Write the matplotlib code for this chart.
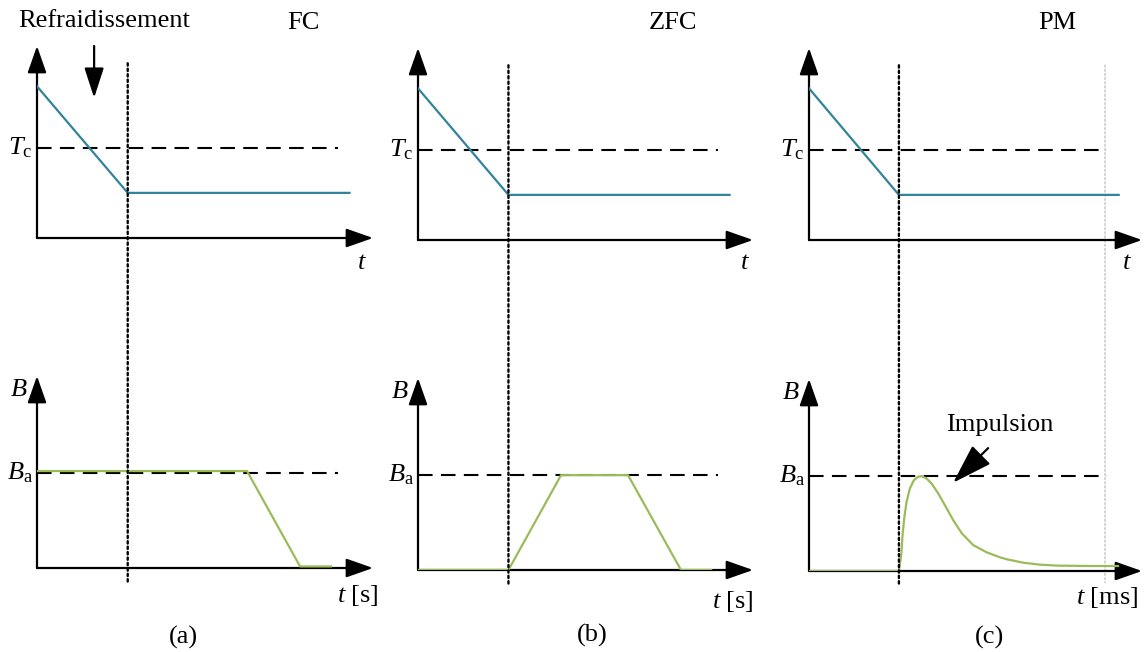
import matplotlib
matplotlib.use('Agg')
import matplotlib.pyplot as plt
from matplotlib.patches import ConnectionPatch

plt.rcParams['font.family'] = ['Liberation Serif', 'DejaVu Serif']
plt.rcParams['mathtext.fontset'] = 'custom'
plt.rcParams['mathtext.rm'] = 'Liberation Serif'
plt.rcParams['mathtext.it'] = 'Liberation Serif:italic'

W, H = 1146, 652

# temperature profile (same for the three procedures)
t_temp = [0, 2.7, 9.3]
T_temp = [0.79, 0.235, 0.235]
T_c = 0.47
t_ref_end = 8.96

# applied field
B_a = 0.494
t_fc = [0, 6.25, 7.83, 8.75]
B_fc = [0.505, 0.505, 0.008, 0.008]
t_zfc = [0, 2.7, 4.27, 6.27, 7.85, 8.75]
B_zfc = [0, 0, 0.494, 0.494, 0, 0]
t_pm = [0, 2.70, 2.77, 2.81, 2.86, 2.93, 3.03, 3.15, 3.28, 3.38, 3.53, 3.68,
        3.88, 4.08, 4.33, 4.59, 4.93, 5.34, 5.74, 5.94, 6.44, 6.94, 7.44,
        8.44, 9.28]
B_pm = [0, 0, 0.085, 0.188, 0.275, 0.361, 0.430, 0.473, 0.491, 0.494, 0.482,
        0.456, 0.404, 0.343, 0.265, 0.196, 0.135, 0.097, 0.071, 0.061, 0.043,
        0.033, 0.028, 0.026, 0.026]

titles = ['FC', 'ZFC', 'PM']
xlabels = [r'$t$ [s]', r'$t$ [s]', r'$t$ [ms]']
letters = ['(a)', '(b)', '(c)']
B_t = [t_fc, t_zfc, t_pm]
B_v = [B_fc, B_zfc, B_pm]

teal = '#31849b'
green = '#9bbb59'
FS = 19

# pixel layout: column origins, top/bottom origin rows
col_x = [37, 418, 809]
col_w = [336, 335, 333]
top_y = [238, 240, 240]
bot_y = [568, 570, 571]
title_x = [303, 673, 1057]
letter_x = [183, 592, 989]
letter_y = [637, 635, 637]
tlab_x = [362, 745, 1127]
blab_x = [358, 733, 1107]
blab_y = [596, 602, 598]


def make_ax(x0, y0, w, h):
    ax = fig.add_axes([x0 / W, (H - y0) / H, w / W, h / H])
    ax.set_xlim(0, 10)
    ax.set_ylim(0, 1)
    ax.axis('off')
    arrow = dict(arrowstyle='-|>,head_length=1.65,head_width=0.58',
                 mutation_scale=10, lw=1.6, color='k', shrinkA=0, shrinkB=0)
    ax.annotate('', xy=(1, 0), xytext=(0, 0), xycoords='axes fraction', arrowprops=arrow)
    ax.annotate('', xy=(0, 1), xytext=(0, 0), xycoords='axes fraction', arrowprops=arrow)
    return ax


fig = plt.figure(figsize=(W / 100, H / 100), dpi=100)

for i in range(3):
    ax1 = make_ax(col_x[i], top_y[i], col_w[i], 192)
    ax2 = make_ax(col_x[i], bot_y[i], col_w[i], 192)

    # temperature
    ax1.plot([0, t_ref_end], [T_c, T_c], color='k', lw=1.5, ls=(0, (7, 4)))
    ax1.plot(t_temp, T_temp, color=teal, lw=1.6, zorder=3)
    ax1.annotate(r'$T_\mathrm{c}$', xy=(0, T_c), xytext=(-3, 0), textcoords='offset points',
                 ha='right', va='center', fontsize=FS)
    fig.text(tlab_x[i] / W, 1 - 263 / H, r'$t$', ha='center', va='center', fontsize=FS)
    fig.text(title_x[i] / W, 1 - 23 / H, titles[i], ha='center', va='center', fontsize=FS)

    # field
    ax2.plot([0, t_ref_end], [B_a, B_a], color='k', lw=1.5, ls=(0, (7, 4)))
    ax2.plot(B_t[i], B_v[i], color=green, lw=1.6, zorder=3)
    ax2.annotate(r'$B_\mathrm{a}$', xy=(0, B_a), xytext=(-3, 0), textcoords='offset points',
                 ha='right', va='center', fontsize=FS)
    ax2.annotate(r'$B$', xy=(0, 1), xytext=(-6.5, -10), textcoords='offset points',
                 ha='right', va='center', fontsize=FS)
    fig.text(blab_x[i] / W, 1 - blab_y[i] / H, xlabels[i], ha='center', va='center', fontsize=FS)
    fig.text(letter_x[i] / W, 1 - letter_y[i] / H, letters[i], ha='center', va='center', fontsize=FS)

    # dotted line marking end of cooling across both panels
    con = ConnectionPatch(xyA=(t_temp[1], 0.91), coordsA=ax1.transData,
                          xyB=(t_temp[1], -0.08), coordsB=ax2.transData,
                          color='k', lw=1.7, ls=(0, (1, 1.3)))
    fig.add_artist(con)

    if i == 0:
        ax1.annotate('', xy=(1.7, 0.73), xytext=(1.7, 1.0),
                     arrowprops=dict(arrowstyle='-|>,head_length=1.85,head_width=0.6',
                                     mutation_scale=10, lw=1.6, color='k',
                                     shrinkA=0, shrinkB=0), annotation_clip=False)
        fig.text(104 / W, 1 - 21 / H, 'Refraidissement', ha='center', va='center', fontsize=FS)
    if i == 2:
        con = ConnectionPatch(xyA=(8.89, 0.91), coordsA=ax1.transData,
                              xyB=(8.89, -0.06), coordsB=ax2.transData,
                              color='#cccccc', lw=1.2, ls=(0, (1, 1.5)), zorder=0)
        fig.add_artist(con)
        ax2.annotate('', xy=(4.33, 0.46), xytext=(5.38, 0.64),
                     arrowprops=dict(arrowstyle='-|>,head_length=2.5,head_width=0.8',
                                     mutation_scale=10, lw=1.6, color='k',
                                     shrinkA=0, shrinkB=0))
        fig.text(1000 / W, 1 - 425 / H, 'Impulsion', ha='center', va='center', fontsize=FS)

fig.savefig('out.png', dpi=100)
